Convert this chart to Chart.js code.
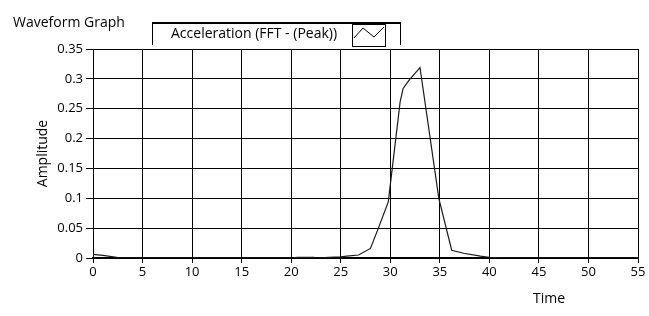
<!DOCTYPE html>
<html>
<head>
<meta charset="utf-8">
<title>Waveform Graph</title>
<script src="https://cdn.jsdelivr.net/npm/chart.js"></script>
<style>
  html, body { margin: 0; padding: 0; background: #fff; }
</style>
</head>
<body>
<canvas id="myChart" width="649" height="316"></canvas>
<script>
// chart texts
var graphTitle = 'Waveform Graph';
var seriesName = 'Acceleration (FFT - (Peak))';
var xTitle = 'Time';
var yTitle = 'Amplitude';

// series
var timeValues      = [0,     1,      2.9, 20, 20.6,  22.3,  22.5, 23.8,  25,    25.6,  26.8,  28,    28.8, 29.8,  31,    31.3,  31.9,  33,    34.9, 36.2,  37.4,  39.1,  40,    42, 55];
var amplitudeValues = [0.006, 0.0045, 0,   0,  0.001, 0.001, 0,    0.001, 0.002, 0.003, 0.005, 0.016, 0.05, 0.094, 0.262, 0.284, 0.298, 0.319, 0.1,  0.013, 0.008, 0.003, 0.001, 0,  0];

// axis ticks
var xTicks = [0, 5, 10, 15, 20, 25, 30, 35, 40, 45, 50, 55];
var yTicks = [0, 0.05, 0.1, 0.15, 0.2, 0.25, 0.3, 0.35];
var yTickLabels = ['0', '0.05', '0.1', '0.15', '0.2', '0.25', '0.3', '0.35'];

var FONT = '"Open Sans", "Liberation Sans", sans-serif';

var points = [];
for (var i = 0; i < timeValues.length; i++) {
    points.push({x: timeValues[i], y: amplitudeValues[i]});
}

// caption, legend box and x title, drawn LabVIEW style
var labviewDecor = {
    id: 'labviewDecor',
    afterDraw: function(chart) {
        var ctx = chart.ctx;
        ctx.save();
        ctx.fillStyle = '#000';
        ctx.font = '14px ' + FONT;
        ctx.textBaseline = 'middle';
        ctx.textAlign = 'left';
        ctx.fillText(graphTitle, 13, 23);

        // legend frame
        ctx.strokeStyle = '#000';
        ctx.lineWidth = 2;
        ctx.beginPath();
        ctx.moveTo(152, 23); ctx.lineTo(401, 23);
        ctx.stroke();
        ctx.lineWidth = 1;
        ctx.beginPath();
        ctx.moveTo(152.5, 22); ctx.lineTo(152.5, 45);
        ctx.moveTo(400.5, 22); ctx.lineTo(400.5, 45);
        ctx.stroke();
        ctx.fillText(chart.data.datasets[0].label, 171, 34);

        // legend swatch
        ctx.strokeRect(352.5, 24.5, 33, 22);
        ctx.beginPath();
        ctx.moveTo(354, 38); ctx.lineTo(363, 28); ctx.lineTo(374, 37); ctx.lineTo(384, 27);
        ctx.stroke();

        ctx.textAlign = 'center';
        ctx.fillText(xTitle, 549, 299);
        ctx.restore();
    }
};

var myChart = new Chart(document.getElementById('myChart'), {
    type: 'line',
    data: {
        datasets: [{
            label: seriesName,
            data: points,
            borderColor: '#1a1a1a',
            borderWidth: 1.2,
            pointRadius: 0,
            tension: 0,
            fill: false
        }]
    },
    options: {
        responsive: false,
        animation: false,
        layout: { padding: { top: 49, right: 11, left: 0, bottom: 0 } },
        plugins: {
            legend: { display: false },
            title: { display: false },
            tooltip: { enabled: false }
        },
        scales: {
            x: {
                type: 'linear',
                min: 0,
                max: 55,
                afterBuildTicks: function(scale) {
                    scale.ticks = xTicks.map(function(v) { return {value: v}; });
                },
                afterFit: function(scale) { scale.height = 58; },
                ticks: {
                    color: '#000',
                    padding: 1,
                    maxRotation: 0,
                    font: { family: FONT, size: 13 },
                    callback: function(v) { return String(v); }
                },
                grid: { color: '#000', lineWidth: 1, tickLength: 5, tickColor: '#000' },
                border: { color: '#000', width: 2 }
            },
            y: {
                min: 0,
                max: 0.35,
                afterBuildTicks: function(scale) {
                    scale.ticks = yTicks.map(function(v) { return {value: v}; });
                },
                afterFit: function(scale) { scale.width = 93; },
                ticks: {
                    color: '#000',
                    padding: 3,
                    font: { family: FONT, size: 13 },
                    callback: function(v, idx) { return yTickLabels[idx]; }
                },
                grid: { color: '#000', lineWidth: 1, tickLength: 7, tickColor: '#000' },
                border: { color: '#000', width: 1 },
                title: {
                    display: true,
                    text: yTitle,
                    color: '#000',
                    font: { family: FONT, size: 14 },
                    padding: { top: 35, bottom: 0 }
                }
            }
        }
    },
    plugins: [labviewDecor]
});
</script>
</body>
</html>
